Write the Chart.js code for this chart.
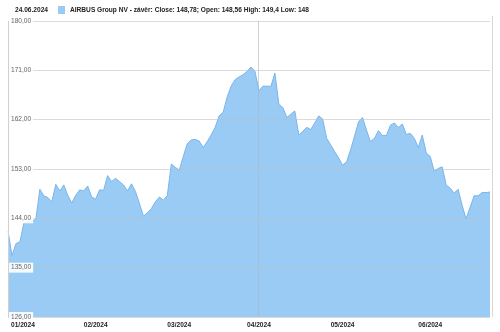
<!DOCTYPE html>
<html>
<head>
<meta charset="utf-8">
<script src="https://cdn.jsdelivr.net/npm/chart.js@4/dist/chart.umd.min.js"></script>
<style>
  html, body { margin: 0; padding: 0; background: #fff; }
  #wrap { position: relative; width: 500px; height: 332px; }
  #hdr { position: absolute; left: 0; top: 0; width: 500px; height: 18px; font-family: "Liberation Sans", Arial, sans-serif; font-size: 6.6px; font-weight: bold; color: #222; }
  #hdr .date { position: absolute; left: 15px; top: 6px; }
  #hdr .box { position: absolute; left: 58px; top: 6px; width: 7px; height: 8px; background: #9ACBF4; }
  #hdr .txt { position: absolute; left: 70px; top: 6px; white-space: nowrap; }
  canvas { position: absolute; left: 0; top: 0; }
</style>
</head>
<body>
<div id="wrap">
  <canvas id="c" width="500" height="332"></canvas>
  <div id="hdr">
    <span class="date">24.06.2024</span>
    <span class="box"></span>
    <span class="txt">AIRBUS Group NV - závěr: Close: 148,78; Open: 148,56 High: 149,4 Low: 148</span>
  </div>
</div>
<script>
const dates = [
  '02.01.2024','03.01.2024','04.01.2024','05.01.2024','08.01.2024','09.01.2024','10.01.2024','11.01.2024','12.01.2024',
  '15.01.2024','16.01.2024','17.01.2024','18.01.2024','19.01.2024','22.01.2024','23.01.2024','24.01.2024','25.01.2024','26.01.2024',
  '29.01.2024','30.01.2024','31.01.2024',
  '01.02.2024','02.02.2024','05.02.2024','06.02.2024','07.02.2024','08.02.2024','09.02.2024','12.02.2024','13.02.2024','14.02.2024',
  '15.02.2024','16.02.2024','19.02.2024','20.02.2024','21.02.2024','22.02.2024','23.02.2024','26.02.2024','27.02.2024','28.02.2024','29.02.2024',
  '01.03.2024','04.03.2024','05.03.2024','06.03.2024','07.03.2024','08.03.2024','11.03.2024','12.03.2024','13.03.2024','14.03.2024',
  '15.03.2024','18.03.2024','19.03.2024','20.03.2024','21.03.2024','22.03.2024','25.03.2024','26.03.2024','27.03.2024','28.03.2024',
  '02.04.2024','03.04.2024','04.04.2024','05.04.2024','08.04.2024','09.04.2024','10.04.2024','11.04.2024','12.04.2024','15.04.2024',
  '16.04.2024','17.04.2024','18.04.2024','19.04.2024','22.04.2024','23.04.2024','24.04.2024','25.04.2024','26.04.2024','29.04.2024','30.04.2024',
  '02.05.2024','03.05.2024','06.05.2024','07.05.2024','08.05.2024','09.05.2024','10.05.2024','13.05.2024','14.05.2024','15.05.2024',
  '16.05.2024','17.05.2024','20.05.2024','21.05.2024','22.05.2024','23.05.2024','24.05.2024','27.05.2024','28.05.2024','29.05.2024','30.05.2024','31.05.2024',
  '03.06.2024','04.06.2024','05.06.2024','06.06.2024','07.06.2024','10.06.2024','11.06.2024','12.06.2024','13.06.2024','14.06.2024',
  '17.06.2024','18.06.2024','19.06.2024','20.06.2024','21.06.2024','24.06.2024'
];

const closeValues = [
  141.7,137.2,139.4,139.7,143.2,143.3,143.4,143.9,149.3,148.1,147.8,147.0,150.2,149.0,150.1,148.2,146.8,148.2,149.2,149.0,149.9,147.9,
  147.5,149.2,149.1,151.8,150.7,151.3,150.7,150.1,149.0,150.3,148.9,146.7,144.4,145.0,145.8,147.0,147.9,147.3,148.2,153.9,153.3,
  152.8,155.3,157.6,158.3,158.4,158.1,156.9,158.0,159.2,160.6,162.7,163.3,166.1,168.1,169.3,169.8,170.2,170.8,171.6,170.8,
  167.3,168.1,168.1,168.1,170.5,164.8,164.2,162.4,163.0,163.6,159.2,159.9,160.6,160.2,161.4,162.7,162.1,158.6,157.4,156.2,155.0,
  153.7,154.3,156.5,159.0,161.6,162.4,160.1,158.0,158.6,160.0,159.1,159.1,161.0,161.4,160.6,161.2,159.3,159.5,158.6,156.9,159.2,155.9,
  155.3,152.6,153.1,153.4,150.1,149.5,148.6,149.3,146.4,143.9,146.0,148.1,148.1,148.7,148.7,148.8
];

const monthTickLabels = ['01/2024','02/2024','03/2024','04/2024','05/2024','06/2024'];
const yTicks = [126, 135, 144, 153, 162, 171, 180];

function monthStartIndices() {
  const out = [];
  let prev = null;
  dates.forEach((d, i) => {
    const m = d.slice(3, 5);
    if (m !== prev) { out.push(i); prev = m; }
  });
  return out;
}
const monthStarts = monthStartIndices();
const markerIndex = monthStarts[3];

const xLabelPlugin = {
  id: 'xLabels',
  afterDraw(chart) {
    const ctx = chart.ctx;
    const xs = chart.scales.x;
    const area = chart.chartArea;
    ctx.save();
    ctx.font = 'bold 6.6px "Liberation Sans", Arial, sans-serif';
    ctx.fillStyle = '#222';
    ctx.textBaseline = 'middle';
    monthStarts.forEach((idx, k) => {
      const px = xs.getPixelForValue(idx);
      const w = ctx.measureText(monthTickLabels[k]).width;
      let x = px - w / 2;
      if (x < area.left + 3) x = area.left + 3;
      ctx.textAlign = 'left';
      ctx.fillText(monthTickLabels[k], x, area.bottom + 8);
    });
    ctx.strokeStyle = '#d8d8d8';
    ctx.lineWidth = 1;
    ctx.beginPath();
    ctx.moveTo(Math.round(area.right) + 2.5, area.top - 5);
    ctx.lineTo(Math.round(area.right) + 2.5, area.bottom);
    ctx.stroke();
    ctx.restore();
  }
};

new Chart(document.getElementById('c'), {
  type: 'line',
  data: {
    labels: dates,
    datasets: [{
      label: 'AIRBUS Group NV - závěr',
      data: closeValues,
      fill: 'start',
      backgroundColor: '#9ACBF4',
      borderColor: '#78B6EC',
      borderWidth: 1,
      pointRadius: 0,
      tension: 0
    }]
  },
  options: {
    responsive: false,
    animation: false,
    layout: { padding: { top: 21, left: 2, right: 10, bottom: 15 } },
    plugins: { legend: { display: false }, tooltip: { enabled: false } },
    scales: {
      x: {
        type: 'category',
        offset: false,
        border: { display: false, z: 1 },
        grid: {
          z: 1,
          drawTicks: false,
          color: (c) => (c.index === markerIndex ? 'rgba(180,180,180,0.6)' : 'rgba(0,0,0,0)')
        },
        ticks: { display: false, autoSkip: false }
      },
      y: {
        min: 126,
        max: 180,
        afterBuildTicks: (s) => { s.ticks = yTicks.map(v => ({ value: v })); },
        border: { display: true, color: '#d0d0d0', z: 1 },
        grid: { color: 'rgba(190,190,190,0.55)', drawTicks: false, z: 1 },
        ticks: {
          z: 2,
          mirror: true,
          padding: 3,
          color: '#666',
          font: { family: '"Liberation Sans", Arial, sans-serif', size: 6.6 },
          showLabelBackdrop: true,
          backdropColor: 'rgba(255,255,255,0.9)',
          backdropPadding: { x: 2, y: 1 },
          callback: (v) => Number(v).toFixed(2).replace('.', ',')
        }
      }
    }
  },
  plugins: [xLabelPlugin]
});
</script>
</body>
</html>
